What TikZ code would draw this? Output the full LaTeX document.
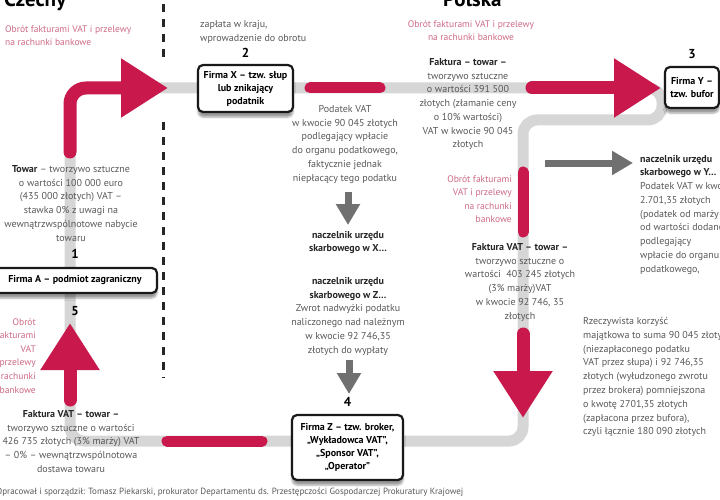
\documentclass[tikz,border=0pt]{standalone}
\usepackage{fontspec}
\setmainfont{PT Sans}
\usetikzlibrary{arrows.meta, positioning, shadows.blur}

\definecolor{vatred}{RGB}{200,24,76}
\definecolor{pinktxt}{RGB}{205,105,132}
\definecolor{pipegray}{RGB}{214,214,214}
\definecolor{flowgray}{RGB}{112,112,112}
\definecolor{bodygray}{RGB}{88,88,88}

\newcommand{\keyterm}[1]{\textcolor{black!85}{\textbf{#1}}}

\begin{document}
\begin{tikzpicture}[
        x=1pt, y=-1pt,
        firm/.style={
            rectangle,
            rounded corners=5pt,
            align=center,
            draw=black!90,
            fill=white,
            line width=2.2pt,
            inner sep=2pt,
            font=\fontsize{10}{13}\selectfont\bfseries,
            blur shadow={shadow opacity=40, shadow yshift=-1ex, shadow xshift=0pt}
        },
        num/.style={font=\fontsize{13}{13}\selectfont\bfseries, inner sep=0pt},
        note/.style={inner sep=0pt, text=bodygray, font=\fontsize{10}{13.8}\selectfont},
        pinknote/.style={inner sep=0pt, text=pinktxt, font=\fontsize{9.5}{13.6}\selectfont},
        boldnote/.style={inner sep=0pt, text=black!85, font=\fontsize{10}{13.5}\selectfont\bfseries},
        country/.style={inner sep=0pt, font=\fontsize{21}{21}\selectfont\bfseries},
        track/.style={draw=pipegray, line width=11pt, rounded corners=14pt},
        flow/.style={draw=vatred, line width=13pt, line cap=round, -{Triangle[length=47pt, width=56pt]}},
        bar/.style={draw=vatred, line width=11pt, line cap=round},
        tax/.style={draw=flowgray, line width=7pt, -{Triangle[length=21pt, width=23pt]}},
        frontier/.style={draw=black!85, line width=3pt, dash pattern=on 8pt off 7pt}
    ]
        \useasboundingbox (0,0) rectangle (720,500);
        \clip (0,0) rectangle (720,500);

        \coordinate (cA) at (70,88);
        \coordinate (cB) at (662,88);
        \coordinate (cC) at (662,120);
        \coordinate (cD) at (523,120);
        \coordinate (cE) at (523,441);
        \coordinate (cF) at (70,441);
        \draw [track] (cF) -- (cA) -- (cB) -- (cC) -- (cD) -- (cE) -- cycle;

        \coordinate (bTop) at (163,4);
        \coordinate (bGapA) at (163,58);
        \coordinate (bGapB) at (163,122);
        \coordinate (bEnd) at (163,378);
        \draw [frontier] (bTop) -- (bGapA) (bGapB) -- (bEnd);

        \coordinate (aStart) at (70,152);
        \coordinate (xTip) at (168,88);
        \coordinate (barXa) at (310,88);
        \coordinate (barXb) at (380,88);
        \coordinate (yStart) at (532,88);
        \coordinate (yTip) at (661,88);
        \coordinate (barYa) at (523,172);
        \coordinate (barYb) at (523,232);
        \coordinate (zStart) at (523,334);
        \coordinate (zTip) at (523,418);
        \coordinate (barZa) at (167,441);
        \coordinate (barZb) at (262,441);
        \coordinate (aBottom) at (70,400);
        \coordinate (aTip) at (70,323);

        \draw [flow, rounded corners=16pt] (aStart) -- (cA) -- (xTip);
        \draw [bar] (barXa) -- (barXb);
        \draw [flow] (yStart) -- (yTip);
        \draw [bar] (barYa) -- (barYb);
        \draw [flow] (zStart) -- (zTip);
        \draw [bar] (barZa) -- (barZb);
        \draw [flow] (aBottom) -- (aTip);

        \coordinate (gXa) at (348,192);
        \coordinate (gXb) at (348,225);
        \coordinate (gZa) at (349,360);
        \coordinate (gZb) at (349,394);
        \coordinate (gYa) at (545,163);
        \coordinate (gYb) at (633,163);
        \draw [tax] (gXa) -- (gXb);
        \draw [tax] (gZa) -- (gZb);
        \draw [tax] (gYa) -- (gYb);

        \node (firmX) [firm, minimum width=95pt, minimum height=47pt] at (245.5,88.5) {Firma X – tzw. słup\\lub znikający\\podatnik};
        \node (firmY) [firm, minimum width=54pt, minimum height=41pt] at (692,87.5) {Firma Y –\\tzw. bufor};
        \node (firmA) [firm, minimum width=164pt, minimum height=25pt] at (75,280.5) {Firma A – podmiot zagraniczny};
        \node (firmZ) [firm, minimum width=111pt, minimum height=65pt] at (347.5,447.5) {Firma Z – tzw. broker,\\„Wykładowca VAT”,\\„Sponsor VAT”,\\„Operator”};

        \node (n2) [num, above=6pt of firmX] {2};
        \node (n3) [num, above=7pt of firmY] {3};
        \node (n1) [num, above=8pt of firmA] {1};
        \node (n5) [num, below=12pt of firmA] {5};
        \node (n4) [num, above=7pt of firmZ] {4};

        \node (czechy) [country, anchor=base west] at (4,7) {Czechy};
        \node (polska) [country, anchor=base west] at (443,7) {Polska};

        \node (obrotCZ) [pinknote, anchor=north west, align=left] at (5,25) {Obrót fakturami VAT i przelewy\\na rachunki bankowe};
        \node (zaplata) [note, anchor=north west, align=left] at (200,20) {zapłata w kraju,\\wprowadzenie do obrotu};
        \node (obrotPL) [pinknote, anchor=north, align=center] at (471,20) {Obrót fakturami VAT i przelewy\\na rachunki bankowe};
        \node (fakturaXY) [note, anchor=north, align=center] at (468,58) {\keyterm{Faktura – towar –}\\tworzywo sztuczne\\o wartości 391 500\\złotych (złamanie ceny\\o 10\% wartości)\\VAT w kwocie 90 045\\złotych};
        \node (podatekX) [note, anchor=north, align=center] at (345,105) {Podatek VAT\\w kwocie 90 045 złotych\\podlegający wpłacie\\do organu podatkowego,\\faktycznie jednak\\niepłacący tego podatku};
        \node (naczX) [boldnote, anchor=north, align=center] at (348,231) {naczelnik urzędu\\skarbowego w X\dots};
        \node (naczZ) [note, anchor=north, align=center] at (348,277) {\keyterm{naczelnik urzędu}\\\keyterm{skarbowego w Z\dots}\\Zwrot nadwyżki podatku\\naliczonego nad należnym\\w kwocie 92 746,35\\złotych do wypłaty};
        \node (towarA) [note, anchor=north, align=center] at (71,165) {\keyterm{Towar} – tworzywo sztuczne\\o wartości 100 000 euro\\(435 000 złotych) VAT –\\stawka 0\% z uwagi na\\wewnątrzwspólnotowe nabycie\\towaru};
        \node (obrotA) [pinknote, anchor=north east, align=right] at (36,318) {Obrót\\fakturami\\VAT\\i przelewy\\na rachunki\\bankowe};
        \node (fakturaA) [note, anchor=north, align=center] at (71,410) {\keyterm{Faktura VAT – towar –}\\tworzywo sztuczne o wartości\\426 735 złotych (3\% marży) VAT\\– 0\% – wewnątrzwspólnotowa\\dostawa towaru};
        \node (obrotY) [pinknote, anchor=north east, align=right] at (512,175) {Obrót fakturami\\VAT i przelewy\\na rachunki\\bankowe};
        \node (fakturaYZ) [note, anchor=north, align=center] at (520,243) {\keyterm{Faktura VAT – towar –}\\tworzywo sztuczne o\\wartości\ \ 403 245 złotych\\(3\% marży)VAT\\w kwocie 92 746, 35\\złotych};
        \node (naczY) [boldnote, anchor=north west, align=left] at (640,155) {naczelnik urzędu\\skarbowego w Y\dots};
        \node (podatekY) [note, align=left, below right=4pt and 0pt of naczY.south west] {Podatek VAT w kwocie\\2.701,35 złotych\\(podatek od marży\\od wartości dodanej)\\podlegający\\wpłacie do organu\\podatkowego,};
        \node (korzysc) [note, anchor=north west, align=left] at (583,317) {Rzeczywista korzyść\\majątkowa to suma 90 045 złotych\\(niezapłaconego podatku\\VAT przez słupa) i 92 746,35\\złotych (wyłudzonego zwrotu\\przez brokera) pomniejszona\\o kwotę 2701,35 złotych\\(zapłacona przez bufora),\\czyli łącznie 180 090 złotych};
        \node (credit) [note, anchor=base west, font=\fontsize{9}{10}\selectfont] at (-4,494) {Opracował i sporządził: Tomasz Piekarski, prokurator Departamentu ds. Przestępczości Gospodarczej Prokuratury Krajowej};
    \end{tikzpicture}
\end{document}
